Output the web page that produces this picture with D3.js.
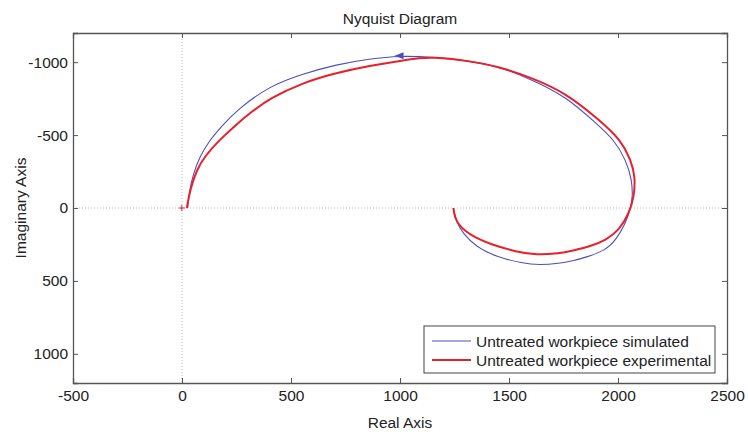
<!DOCTYPE html>
<html>
<head>
<meta charset="utf-8">
<script src="https://cdn.jsdelivr.net/npm/d3@7"></script>
<style>
  body { margin: 0; background: #fff; }
  svg text { font-family: "Liberation Sans", Arial, sans-serif; fill: #222; }
</style>
</head>
<body>
<svg width="748" height="432"></svg>
<script>
// simulated response (real, imaginary)
var simRe = [26, 26, 32, 52, 82, 120, 182, 258, 403, 555, 708, 861, 998, 1149, 1304, 1456, 1607, 1762, 1900, 1983, 2036, 2064, 2067, 2059, 2036, 1990, 1945, 1850, 1792, 1731, 1639, 1563, 1441, 1349, 1288, 1258, 1245, 1245];
var simIm = [0, 0, -103, -237, -352, -450, -562, -680, -838, -920, -984, -1023, -1044, -1035, -1012, -970, -879, -764, -580, -467, -330, -192, -78, -9, 105, 220, 288, 340, 362, 380, 391, 380, 334, 266, 174, 94, 0, 0];

// experimental response
var expRe = [22, 22, 37, 67, 105, 166, 243, 319, 403, 555, 708, 861, 1013, 1090, 1149, 1304, 1456, 1607, 1762, 1914, 2013, 2059, 2079, 2074, 2051, 2006, 1945, 1868, 1792, 1731, 1624, 1533, 1425, 1334, 1273, 1250, 1245, 1245];
var expIm = [0, 0, -124, -261, -355, -458, -565, -660, -752, -860, -927, -975, -1012, -1028, -1035, -1012, -970, -891, -788, -604, -467, -330, -215, -78, 36, 151, 220, 266, 292, 311, 323, 300, 254, 197, 128, 60, 0, 0];

var xTicks = [-500, 0, 500, 1000, 1500, 2000, 2500];
var yTicks = [-1000, -500, 0, 500, 1000];
var legendLabels = ["Untreated workpiece simulated", "Untreated workpiece experimental"];
var seriesColors = ["#4a4fc0", "#e8202a"];

var svg = d3.select("svg");
var padL = 73, padR = 727, padT = 33, padB = 383;
var fs = "15.5px";

var x = d3.scaleLinear().domain([-500, 2500]).range([padL, padR]);
var y = d3.scaleLinear().domain([-1200, 1200]).range([padT, padB]);
var fmt = function(d){ return String(d); };

// dotted zero lines
svg.append("line")
	.attr("x1", x(0)).attr("x2", x(0)).attr("y1", padT).attr("y2", padB)
	.attr("stroke", "#bbb").attr("stroke-dasharray", "1,2");
svg.append("line")
	.attr("x1", padL).attr("x2", padR).attr("y1", y(0)).attr("y2", y(0))
	.attr("stroke", "#bbb").attr("stroke-dasharray", "1,2");

// axes (ticks inward on all sides)
var axColor = "#555";
var gB = svg.append("g").attr("transform", "translate(0," + padB + ")")
	.call(d3.axisBottom(x).tickValues(xTicks).tickSize(-5).tickPadding(7).tickFormat(fmt));
var gT = svg.append("g").attr("transform", "translate(0," + padT + ")")
	.call(d3.axisTop(x).tickValues(xTicks).tickSize(-5).tickFormat(""));
var gL = svg.append("g").attr("transform", "translate(" + padL + ",0)")
	.call(d3.axisLeft(y).tickValues(yTicks).tickSize(-5).tickPadding(5).tickFormat(fmt));
var gR = svg.append("g").attr("transform", "translate(" + padR + ",0)")
	.call(d3.axisRight(y).tickValues(yTicks).tickSize(-5).tickFormat(""));
[gB, gT, gL, gR].forEach(function(g){
	g.selectAll("path").attr("stroke", axColor).attr("stroke-width", 1.3);
	g.selectAll("line").attr("stroke", axColor);
	g.selectAll("text").style("font-size", fs).attr("fill", "#222")
		.style("font-family", "'Liberation Sans', Arial, sans-serif");
});

// curves (basis spline smooths out reading errors; end points doubled)
var line = d3.line()
	.x(function(d){ return x(d[0]); })
	.y(function(d){ return y(d[1]); })
	.curve(d3.curveBasis);

var sim = simRe.map(function(v, i){ return [v, simIm[i]]; });
var exp = expRe.map(function(v, i){ return [v, expIm[i]]; });

svg.append("path").datum(sim).attr("d", line)
	.attr("fill", "none").attr("stroke", seriesColors[0]).attr("stroke-width", 1.1);
svg.append("path").datum(exp).attr("d", line)
	.attr("fill", "none").attr("stroke", seriesColors[1]).attr("stroke-width", 2);

// direction arrow on the simulated curve, pointing left
var ax = x(998), ay = y(-1044);
svg.append("path")
	.attr("d", "M" + (ax - 5) + "," + ay + " L" + (ax + 4) + "," + (ay - 3.5) + " L" + (ax + 4) + "," + (ay + 3.5) + " Z")
	.attr("fill", seriesColors[0]);

// critical point marker
var cx = x(-1), cy = y(0);
svg.append("path")
	.attr("d", "M" + (cx - 3) + "," + cy + " H" + (cx + 3) + " M" + cx + "," + (cy - 3) + " V" + (cy + 3))
	.attr("stroke", "#e8202a").attr("stroke-width", 1);

// title and axis labels
svg.append("text").attr("x", 400).attr("y", 24).attr("text-anchor", "middle")
	.style("font-size", fs).text("Nyquist Diagram");
svg.append("text").attr("x", 400).attr("y", 428).attr("text-anchor", "middle")
	.style("font-size", fs).text("Real Axis");
svg.append("text").attr("transform", "translate(26," + y(0) + ") rotate(-90)")
	.attr("text-anchor", "middle").style("font-size", fs).text("Imaginary Axis");

// legend
var lg = svg.append("g");
lg.append("rect").attr("x", 424).attr("y", 326).attr("width", 291).attr("height", 47)
	.attr("fill", "#fff").attr("stroke", "#444").attr("stroke-width", 1);
legendLabels.forEach(function(t, i){
	var ly = 341 + i * 19;
	lg.append("line").attr("x1", 432).attr("x2", 471).attr("y1", ly).attr("y2", ly)
		.attr("stroke", seriesColors[i]).attr("stroke-width", i ? 2 : 1.1);
	lg.append("text").attr("x", 476).attr("y", ly + 5.5).style("font-size", fs).text(t);
});
</script>
</body>
</html>
